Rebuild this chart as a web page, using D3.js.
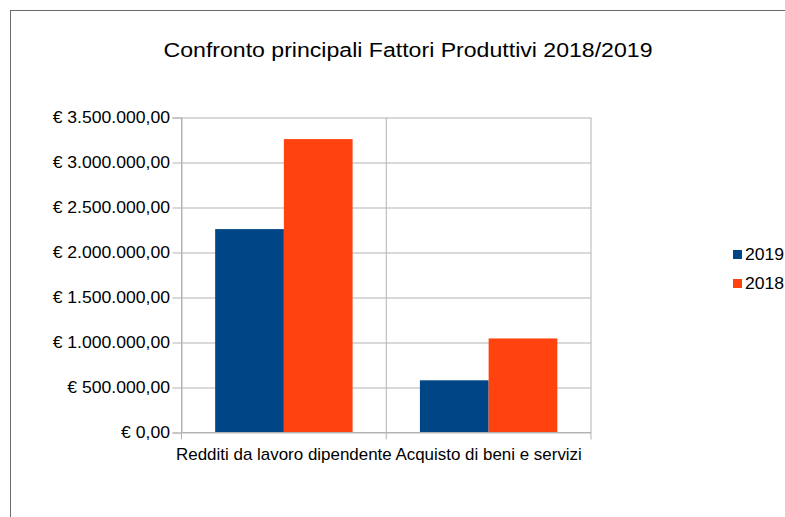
<!DOCTYPE html>
<html>
<head>
<meta charset="utf-8">
<script src="https://cdn.jsdelivr.net/npm/d3@7"></script>
<style>
  body { margin: 0; background: #fff; }
  text { font-family: "Liberation Sans", Arial, sans-serif; }
</style>
</head>
<body>
<svg id="chart"></svg>
<script>
var categories = ["Redditi da lavoro dipendente", "Acquisto di beni e servizi"]
var seriesNames = ["2019", "2018"]
var values2019 = [2260000, 580000]
var values2018 = [3260000, 1045000]
var yTicks = [0, 500000, 1000000, 1500000, 2000000, 2500000, 3000000, 3500000]
var colors = ["#004586", "#ff420e"]

var width = 785, height = 517
var margin = { top: 117.5, left: 181.5, right: 194, bottom: 85 }
var plotW = 591 - margin.left, plotH = 432.5 - margin.top
var stretch = "scale(1.1,1)"   // the original text is a bit wider than the font

var svg = d3.select("#chart").attr("width", width).attr("height", height)

// outer frame
svg.append("rect")
    .attr("x", 10.5).attr("y", 10.5)
    .attr("width", 900).attr("height", 900)
    .style("fill", "none").style("stroke", "#6b6b6b")

svg.append("text")
    .attr("transform", "translate(408,57) " + stretch)
    .attr("text-anchor", "middle")
    .style("font-size", "21px")
    .text("Confronto principali Fattori Produttivi 2018/2019")

var it = d3.formatLocale({ decimal: ",", thousands: ".", grouping: [3], currency: ["€ ", ""] })
var fmt = it.format(",.2f")

var x0 = d3.scaleBand().domain(categories).range([0, plotW])
var x1 = d3.scaleBand().domain(seriesNames).range([0, x0.bandwidth()]).paddingOuter(0.49)
var y = d3.scaleLinear().domain([0, 3500000]).range([plotH, 0])

var g = svg.append("g").attr("transform", "translate(" + margin.left + "," + margin.top + ")")

// horizontal grid
g.append("g")
    .call(d3.axisLeft(y).tickValues(yTicks).tickSize(-plotW).tickFormat(""))
    .call(function(a){ a.select(".domain").remove() })
    .selectAll("line").style("stroke", "#b3b3b3")

// vertical grid at category boundaries
var bounds = categories.map(function(c){ return x0(c) }).concat([plotW])
g.append("g").selectAll("line").data(bounds).enter().append("line")
    .attr("x1", function(d){ return d }).attr("x2", function(d){ return d })
    .attr("y1", 0).attr("y2", plotH + 7)
    .style("stroke", "#b3b3b3")

var data = categories.map(function(c, i){
    return { cat: c, vals: [values2019[i], values2018[i]] }
})

g.append("g").selectAll("g").data(data).enter().append("g")
    .attr("transform", function(d){ return "translate(" + x0(d.cat) + ",0)" })
    .selectAll("rect")
    .data(function(d){ return d.vals.map(function(v, j){ return { s: seriesNames[j], v: v, j: j } }) })
    .enter().append("rect")
    .attr("x", function(d){ return x1(d.s) })
    .attr("width", x1.bandwidth())
    .attr("y", function(d){ return y(d.v) })
    .attr("height", function(d){ return plotH - y(d.v) })
    .style("fill", function(d){ return colors[d.j] })

// y axis with labels
var yAxis = g.append("g")
    .call(d3.axisLeft(y).tickValues(yTicks).tickSize(9).tickPadding(1.5)
        .tickFormat(function(d){ return "€ " + fmt(d) }))
yAxis.select(".domain").style("stroke", "#b3b3b3")
yAxis.selectAll("line").style("stroke", "#b3b3b3")
yAxis.selectAll("text").attr("transform", stretch)
    .style("font-size", "16px").style("fill", "#000")

// x axis line + labels
g.append("line").attr("x1", 0).attr("x2", plotW).attr("y1", plotH).attr("y2", plotH)
    .style("stroke", "#b3b3b3")
g.append("g").selectAll("text").data(categories).enter().append("text")
    .attr("transform", function(d){
        return "translate(" + (x0(d) + x0.bandwidth() / 2) + "," + (plotH + 27) + ") scale(1.06,1)"
    })
    .attr("text-anchor", "middle")
    .style("font-size", "16px")
    .text(function(d){ return d })

// legend
var legend = svg.append("g").attr("transform", "translate(733,250)")
    .selectAll("g").data(seriesNames).enter().append("g")
    .attr("transform", function(d, i){ return "translate(0," + (i * 29) + ")" })
legend.append("rect").attr("width", 9).attr("height", 9)
    .style("fill", function(d, i){ return colors[i] })
legend.append("text").attr("transform", "translate(12,10) " + stretch)
    .style("font-size", "16px")
    .text(function(d){ return d })
</script>
</body>
</html>
